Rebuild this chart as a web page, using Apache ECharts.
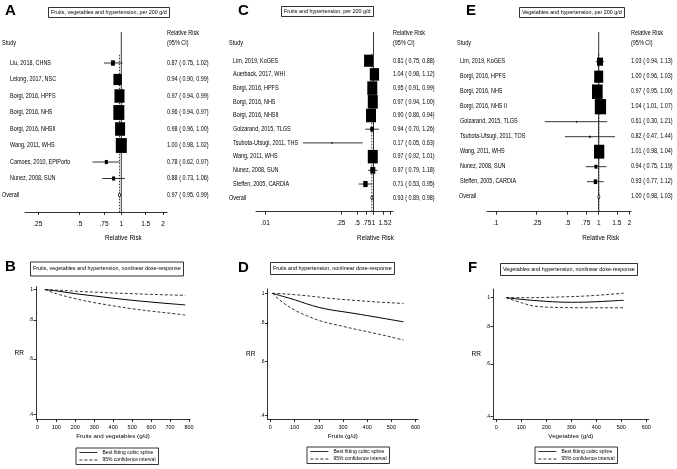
<!DOCTYPE html>
<html><head><meta charset="utf-8">
<script src="https://cdn.jsdelivr.net/npm/echarts@6/dist/echarts.min.js"></script>
<style>html,body{margin:0;padding:0;background:#fff}#c{width:677px;height:469px}</style>
</head><body><div id="c"></div>
<script>
const FONT = "'Liberation Sans Narrow','Arial Narrow','Liberation Sans',Arial,sans-serif";
const BOLD = "'Liberation Sans',Arial,sans-serif";
const SX = 0.84; // horizontal squeeze to mimic the condensed face of the original

// ---- Panel A: fruits & vegetables, per 200 g/d ----
const studiesA = ['Liu, 2018, CHNS','Lelong, 2017, NSC','Borgi, 2016, HPFS','Borgi, 2016, NHS','Borgi, 2016, NHSII','Wang, 2011, WHS','Camoes, 2010, EPIPorto','Nunez, 2008, SUN'];
const rrA = [0.87,0.94,0.97,0.96,0.98,1.00,0.78,0.88];
const loA = [0.75,0.90,0.94,0.94,0.96,0.98,0.62,0.73];
const hiA = [1.02,0.99,0.99,0.97,1.00,1.02,0.97,1.06];
const wA  = [2.9,12.6,18.3,22.1,18.3,22.1,1.7,1.7];
const overallA = [0.97,0.95,0.99];
const ticksA = [0.25,0.5,0.75,1,1.5,2];

// ---- Panel C: fruits, per 200 g/d ----
const studiesC = ['Lim, 2019, KoGES','Auerback, 2017, WHI','Borgi, 2016, HPFS','Borgi, 2016, NHS','Borgi, 2016, NHSII','Golzarand, 2015, TLGS','Tsubota-Utsugi, 2011, THS','Wang, 2011, WHS','Nunez, 2008, SUN','Steffen, 2005, CARDIA'];
const rrC = [0.81,1.04,0.95,0.97,0.90,0.94,0.17,0.97,0.97,0.71];
const loC = [0.75,0.98,0.91,0.94,0.86,0.70,0.05,0.92,0.79,0.53];
const hiC = [0.88,1.12,0.99,1.00,0.94,1.26,0.63,1.01,1.18,0.95];
const wC  = [12.9,13.8,16.0,16.0,16.0,2.0,0.2,16.0,4.0,3.2];
const overallC = [0.93,0.89,0.98];
const ticksC = [0.01,0.25,0.5,0.75,1,1.5,2];

// ---- Panel E: vegetables, per 200 g/d ----
const studiesE = ['Lim, 2019, KoGES','Borgi, 2016, HPFS','Borgi, 2016, NHS','Borgi, 2016, NHS II','Golzarand, 2015, TLGS','Tsubota-Utsugi, 2011, TOS','Wang, 2011, WHS','Nunez, 2008, SUN','Steffen, 2005, CARDIA'];
const rrE = [1.03,1.00,0.97,1.04,0.61,0.82,1.01,0.94,0.93];
const loE = [0.94,0.96,0.95,1.01,0.30,0.47,0.98,0.75,0.77];
const hiE = [1.13,1.03,1.00,1.07,1.21,1.44,1.04,1.19,1.12];
const wE  = [7.4,16.5,23.4,26.1,0.2,0.5,21.7,1.8,2.5];
const overallE = [1.00,0.98,1.03];
const ticksE = [0.1,0.25,0.5,0.75,1,1.5,2];

// ---- Dose-response curves ----
const doseB   = [40,100,200,300,400,500,600,700,780];
const splineB = [1,0.99,0.97,0.954,0.938,0.924,0.912,0.901,0.893];
const upperB  = [1,0.996,0.988,0.981,0.975,0.97,0.965,0.961,0.958];
const lowerB  = [1,0.97,0.935,0.908,0.887,0.868,0.853,0.84,0.829];

const doseD   = [8,50,100,150,200,250,300,350,400,450,500,550];
const splineD = [1,0.978,0.953,0.924,0.9,0.883,0.871,0.859,0.846,0.833,0.82,0.807];
const upperD  = [1,0.997,0.99,0.982,0.972,0.962,0.955,0.948,0.942,0.936,0.931,0.927];
const lowerD  = [1,0.935,0.882,0.845,0.816,0.796,0.78,0.764,0.75,0.735,0.72,0.704];

const doseF   = [40,100,150,200,250,300,350,400,450,510];
const splineF = [1,0.987,0.979,0.972,0.967,0.965,0.966,0.969,0.974,0.98];
const upperF  = [1,1.0,1.0,1.002,1.005,1.008,1.012,1.018,1.025,1.035];
const lowerF  = [1,0.962,0.938,0.93,0.927,0.926,0.925,0.925,0.925,0.925];

const ticksRR = [0.4,0.6,0.8,1];
const ticksDose8 = [0,100,200,300,400,500,600,700,800];
const ticksDose6 = [0,100,200,300,400,500,600];

const fmt = v => v.toFixed(2);
const tickFmt = v => String(+(+v).toFixed(4)).replace(/^0\./, '.');

function txt(t, x, y, size, align) {
  return { type: 'text', x: x, y: y, scaleX: SX, scaleY: 1, silent: true,
    style: { text: t, x: 0, y: 0, fill: '#000', fontSize: size || 6.5, fontFamily: FONT,
             verticalAlign: 'middle', align: align || 'left' } };
}
function seg(p1, p2, dash, width, color) {
  return { type: 'line', silent: true, shape: { x1: p1[0], y1: p1[1], x2: p2[0], y2: p2[1] },
    style: { stroke: color || '#000', lineWidth: width || 0.8, lineDash: dash || null } };
}

function forestSeries(gi, P, yr) {
  const n = P.studies.length;
  const data = P.studies.map((s, i) => [P.rr[i], i, P.lo[i], P.hi[i], P.w[i]]);
  data.push([P.ov[0], n, P.ov[1], P.ov[2], -1]);
  return {
    type: 'custom', xAxisIndex: gi, yAxisIndex: gi, clip: false, silent: true, data,
    renderItem(params, api) {
      const cs = params.coordSys;
      const idx = params.dataIndex;
      const rr = api.value(0), row = api.value(1), lo = api.value(2), hi = api.value(3), w = api.value(4);
      const c = api.coord([rr, row]), l = api.coord([lo, row]), h = api.coord([hi, row]);
      const y = c[1];
      const right = cs.x + cs.width;
      const ch = [];
      const isOv = w < 0;
      if (idx === 0) {
        // reference line at RR = 1 and dotted line at the overall estimate
        ch.push(seg(api.coord([1, yr[0]]), api.coord([1, yr[1]]), null, 1, '#333'));
        ch.push(seg(api.coord([P.ov[0], -0.5]), api.coord([P.ov[0], yr[1]]), [1.5, 1.5], 0.8));
        ch.push(txt('Study', cs.x - P.studyOff, cs.y + 11.5));
        ch.push(txt('Relative Risk', right, cs.y + 1.5));
        ch.push(txt('(95% CI)', right, cs.y + 11.5));
      }
      if (!isOv) {
        const bw = Math.max(P.k * Math.sqrt(w), 1.2), bh = bw * 1.35;
        ch.push(seg(l, h, null, 0.8));
        ch.push({ type: 'rect', silent: true, shape: { x: c[0] - bw / 2, y: y - bh / 2, width: bw, height: bh }, style: { fill: '#000' } });
      } else {
        ch.push({ type: 'polygon', silent: true, shape: { points: [[l[0], y], [c[0], y - 2.5], [h[0], y], [c[0], y + 2.5]] }, style: { fill: '#fff', stroke: '#000', lineWidth: 0.8 } });
        const one = api.coord([1, row]);
        ch.push(txt('Relative Risk', one[0] + 2, cs.y + cs.height + 26, 7.5, 'center'));
      }
      ch.push(txt(isOv ? 'Overall' : P.studies[idx], cs.x - (isOv ? P.ovOff : P.nameOff), y));
      ch.push(txt(fmt(rr) + ' ( ' + fmt(lo) + ', ' + fmt(hi) + ')', right, y));
      return { type: 'group', children: ch };
    }
  };
}

function forestX(gi, min, max, ticks) {
  return { type: 'log', gridIndex: gi, min, max,
    axisLine: { show: true, onZero: false, lineStyle: { color: '#000', width: 0.8 } },
    axisTick: { show: true, length: 3, customValues: ticks, lineStyle: { color: '#000', width: 0.8 } },
    axisLabel: { customValues: ticks, formatter: tickFmt, fontSize: 6.5, color: '#000', margin: 8.5, fontFamily: FONT },
    splitLine: { show: false }, minorTick: { show: false } };
}
function forestY(gi, min, max) {
  return { type: 'value', gridIndex: gi, min, max, inverse: true, show: false };
}
function doseX(gi, min, max, ticks, name) {
  return { type: 'value', gridIndex: gi, min, max, name, nameLocation: 'middle', nameGap: 14,
    nameTextStyle: { fontSize: 6.2, color: '#000', fontFamily: FONT },
    axisLine: { show: true, onZero: false, lineStyle: { color: '#000', width: 0.8 } },
    axisTick: { show: true, length: 3, customValues: ticks, lineStyle: { color: '#000', width: 0.8 } },
    axisLabel: { customValues: ticks, fontSize: 5.5, color: '#000', margin: 5, fontFamily: FONT },
    splitLine: { show: false } };
}
function doseY(gi, min, max) {
  return { type: 'log', gridIndex: gi, min, max, name: 'RR', nameLocation: 'middle', nameRotate: 0, nameGap: 12,
    nameTextStyle: { fontSize: 6.5, color: '#000', fontFamily: FONT },
    axisLine: { show: true, onZero: false, lineStyle: { color: '#000', width: 0.8 } },
    axisTick: { show: true, length: 2.5, customValues: ticksRR, lineStyle: { color: '#000', width: 0.8 } },
    axisLabel: { customValues: ticksRR, formatter: tickFmt, fontSize: 5, color: '#000', margin: 3, fontFamily: FONT },
    splitLine: { show: false }, minorTick: { show: false } };
}
function curve(gi, xs, ys, name, dashed) {
  return { type: 'line', name, xAxisIndex: gi, yAxisIndex: gi, data: xs.map((x, i) => [x, ys[i]]),
    symbol: 'none', smooth: 0.35, silent: true, itemStyle: { color: '#000' },
    lineStyle: { color: '#000', width: dashed ? 0.8 : 1, type: dashed ? [3, 2] : 'solid' } };
}

const SPL = 'Best fitting cubic spline', CI = '95% confidence interval';

const letter = (t, left, top) => ({ text: t, left, top, padding: 0, textStyle: { fontSize: 15, fontWeight: 'bold', color: '#000', fontFamily: BOLD } });
const boxT = (t, left, top, pad) => ({ text: t, left, top, padding: pad, borderColor: '#000', borderWidth: 0.8,
  textStyle: { fontSize: 5.4, fontWeight: 'normal', color: '#000', fontFamily: FONT, lineHeight: 7 } });
const leg = (left, top) => ({ left, top, orient: 'vertical', data: [SPL, CI], borderColor: '#000', borderWidth: 0.8,
  padding: [2, 3], itemGap: 2.5, itemWidth: 18, itemHeight: 6, itemTextGap: 2, selectedMode: false,
  itemStyle: { color: 'rgba(0,0,0,0)', borderWidth: 0, opacity: 0 },
  lineStyle: { width: 0.8 },
  textStyle: { fontSize: 5, fontFamily: FONT, color: '#000' } });

const PA = { studies: studiesA, rr: rrA, lo: loA, hi: hiA, w: wA, ov: overallA, k: 2.34, nameOff: 15, ovOff: 23, studyOff: 23 };
const PC = { studies: studiesC, rr: rrC, lo: loC, hi: hiC, w: wC, ov: overallC, k: 2.5, nameOff: 23, ovOff: 27, studyOff: 27 };
const PE = { studies: studiesE, rr: rrE, lo: loE, hi: hiE, w: wE, ov: overallE, k: 2.21, nameOff: 27, ovOff: 28, studyOff: 30 };

const yA = [-1.879, 9.03], yC = [-2.095, 11.02], yE = [-1.98, 10.0];

const option = {
  animation: false,
  textStyle: { fontFamily: FONT },
  title: [
    letter('A', 5, 3), letter('C', 238, 3), letter('E', 466, 3),
    letter('B', 5, 259), letter('D', 238, 260), letter('F', 468, 260),
    boxT('Fruits, vegetables and hypertension, per 200 g/d', 48, 7, [2, 3]),
    boxT('Fruits and hypertension, per 200 g/d', 281, 6, [2, 3]),
    boxT('Vegetables and hypertension, per 200 g/d', 519, 7, [2, 3]),
    boxT('Fruits, vegetables and hypertension, nonlinear dose-response', 30, 262, [3.5, 3]),
    boxT('Fruits and hypertension, nonlinear dose-response', 270, 262, [3, 3]),
    boxT('Vegetables and hypertension, nonlinear dose-response', 500, 263, [3, 3])
  ],
  legend: [leg(76, 448), leg(307, 447), leg(535, 447)],
  grid: [
    { left: 25, top: 32, width: 142, height: 180 },
    { left: 256, top: 32, width: 137, height: 179.7 },
    { left: 487, top: 32, width: 144, height: 179.7 },
    { left: 36, top: 286.7, width: 154, height: 132.3 },
    { left: 267.5, top: 289, width: 150.5, height: 130 },
    { left: 493, top: 289, width: 155.75, height: 130 }
  ],
  xAxis: [
    forestX(0, 0.202, 2.136, ticksA),
    forestX(1, 0.00674, 2.293, ticksC),
    forestX(2, 0.0822, 2.06, ticksE),
    doseX(3, -7, 805, ticksDose8, 'Fruits and vegetables (g/d)'),
    doseX(4, -12, 610, ticksDose6, 'Fruits (g/d)'),
    doseX(5, -13, 610, ticksDose6, 'Vegetables (g/d)')
  ],
  yAxis: [
    forestY(0, yA[0], yA[1]), forestY(1, yC[0], yC[1]), forestY(2, yE[0], yE[1]),
    doseY(3, 0.386, 1.021), doseY(4, 0.389, 1.033), doseY(5, 0.393, 1.069)
  ],
  series: [
    forestSeries(0, PA, yA), forestSeries(1, PC, yC), forestSeries(2, PE, yE),
    curve(3, doseB, splineB, SPL, false), curve(3, doseB, upperB, CI, true), curve(3, doseB, lowerB, CI, true),
    curve(4, doseD, splineD, SPL, false), curve(4, doseD, upperD, CI, true), curve(4, doseD, lowerD, CI, true),
    curve(5, doseF, splineF, SPL, false), curve(5, doseF, upperF, CI, true), curve(5, doseF, lowerF, CI, true)
  ]
};
const chart = echarts.init(document.getElementById('c'), null, { renderer: 'canvas' });
chart.setOption(option);
</script></body></html>
